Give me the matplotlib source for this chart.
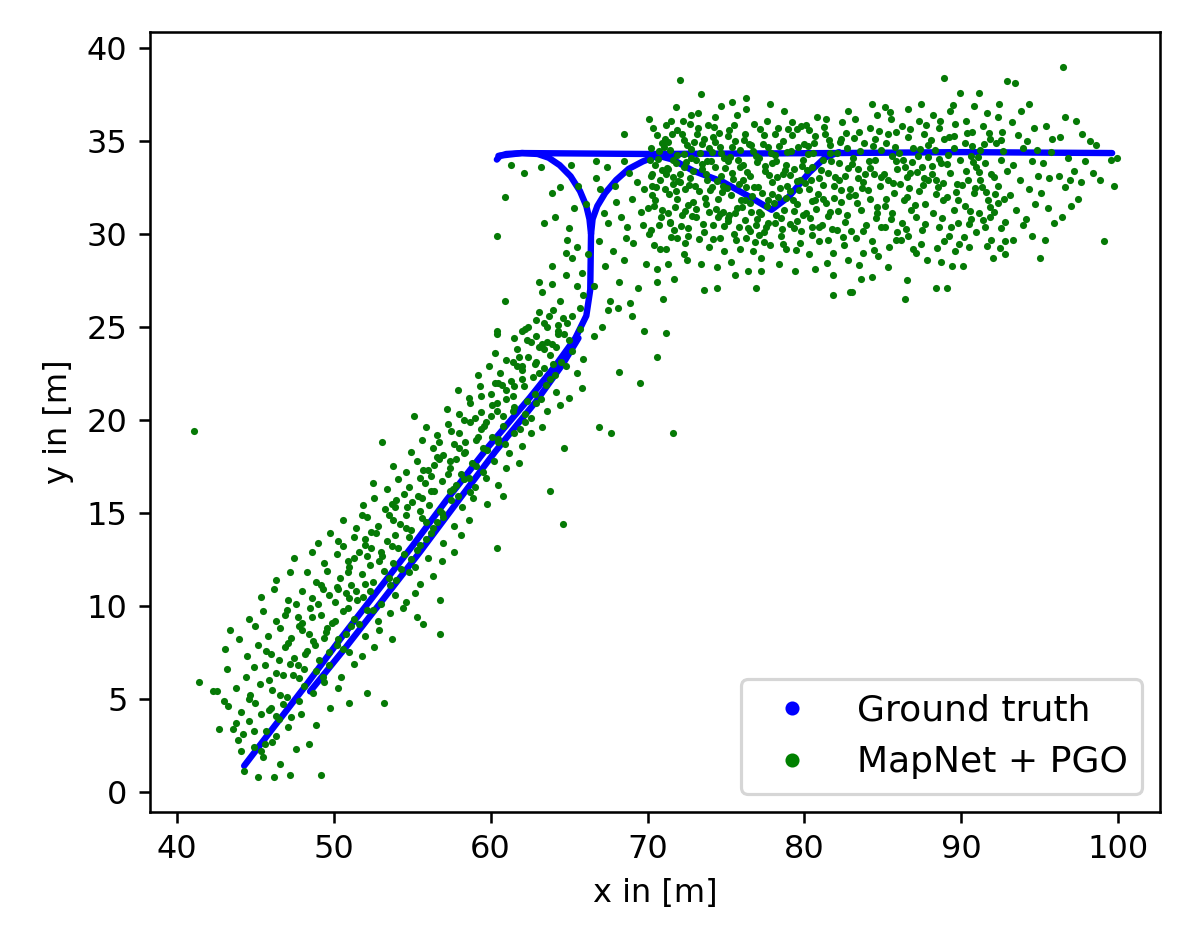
import numpy as np
import matplotlib
matplotlib.use("Agg")
from matplotlib import pyplot as plt
from matplotlib.lines import Line2D

# ground truth track
gt_diag_a = [(44.3, 1.4), (46.2, 3.5), (48.3, 5.8), (50.5, 8.3), (52.7, 10.7), (55.0, 13.2),
             (57.2, 15.7), (59.8, 18.5), (62.5, 21.2), (64.2, 23.0), (65.4, 24.4), (66.1, 25.6),
             (66.35, 27.0), (66.4, 30.0), (66.3, 30.8), (66.1, 31.5), (65.7, 32.3), (65.1, 33.1),
             (64.4, 33.7), (63.7, 34.1), (63.0, 34.3), (62.0, 34.35), (61.0, 34.3), (60.6, 34.2),
             (60.4, 34.0)]
gt_diag_b = [(48.5, 5.4), (50.8, 7.8), (53.2, 10.4), (55.5, 12.9), (57.8, 15.5), (60.3, 18.3),
             (62.9, 21.0), (64.6, 23.0), (65.6, 24.4)]
gt_branch = [(66.4, 30.0), (66.5, 30.8), (66.8, 31.5), (67.3, 32.2), (68.0, 32.9), (68.8, 33.5),
             (69.7, 33.9), (70.6, 34.2), (71.5, 34.3)]
gt_vee = [(70.5, 34.25), (71.6, 34.0), (72.9, 33.4), (74.8, 32.8), (76.5, 32.0), (77.9, 31.3),
          (79.0, 32.0), (80.3, 33.3), (81.3, 34.1), (82.2, 34.4)]
gt_top = [(60.5, 34.2), (62.0, 34.35), (70.0, 34.3), (82.0, 34.35), (90.0, 34.4), (99.6, 34.35)]

# MapNet + PGO estimates, hand-read by region
pred_diag_low = [
    (44.3, 1.1), (45.2, 0.8), (46.2, 0.8), (47.2, 0.9), (49.2, 0.9), (45.5, 1.9), (46.6, 1.5),
    (44.9, 2.4), (46.1, 2.7), (47.6, 2.3), (43.9, 2.8), (45.4, 2.2), (48.4, 2.6),
    (42.7, 3.4), (43.6, 3.4), (44.6, 3.8), (45.7, 3.3), (46.5, 3.9), (47.1, 3.5), (48.9, 3.6), (44.2, 3.1),
    (43.3, 4.6), (44.1, 4.3), (45.0, 4.8), (45.9, 4.4), (46.8, 4.7), (47.9, 4.2), (49.8, 4.5), (43.0, 4.9), (46.3, 4.1),
    (41.4, 5.9), (42.3, 5.4), (42.6, 5.4), (43.8, 5.6), (44.7, 5.2), (45.3, 5.8), (46.1, 5.5), (47.0, 5.1),
    (48.1, 5.7), (48.7, 5.3), (49.4, 5.9), (51.0, 4.8), (52.1, 5.3), (50.3, 5.6), (53.2, 4.8),
    (43.2, 6.6), (44.4, 6.2), (45.6, 6.8), (46.3, 6.4), (47.2, 6.9), (47.8, 6.1), (48.9, 6.5), (49.7, 6.8),
    (50.5, 6.2), (51.3, 6.9), (44.9, 6.7), (46.8, 6.3),
    (43.1, 7.7), (44.5, 7.3), (45.2, 7.9), (46.0, 7.4), (46.9, 7.8), (47.5, 7.2), (48.3, 7.6), (49.1, 7.1),
    (50.2, 7.9), (51.0, 7.5), (51.8, 7.3), (52.6, 7.8), (45.7, 7.6), (48.8, 7.9),
    (43.4, 8.7), (44.0, 8.2), (45.0, 8.9), (45.8, 8.4), (46.6, 8.8), (47.3, 8.3), (48.0, 8.7), (48.7, 8.1),
    (49.5, 8.6), (50.3, 8.2), (51.1, 8.9), (52.0, 8.4), (52.9, 8.7), (53.7, 8.2), (55.7, 9.0), (56.8, 8.5),
    (47.8, 8.9), (50.8, 8.5),
    (44.6, 9.3), (45.5, 9.7), (46.3, 9.2), (47.0, 9.8), (47.7, 9.4), (48.5, 9.9), (49.2, 9.5), (49.9, 9.1),
    (50.6, 9.7), (51.3, 9.3), (52.1, 9.8), (52.8, 9.2), (53.6, 9.6), (54.4, 9.9), (55.3, 9.4), (48.0, 9.1),
    (50.9, 9.9), (46.9, 9.5),
    (45.4, 10.5), (46.2, 10.9), (47.1, 10.3), (48.0, 10.8), (48.6, 10.4), (49.3, 10.9), (50.1, 10.2),
    (50.8, 10.7), (51.5, 10.3), (52.3, 10.8), (53.0, 10.1), (53.9, 10.6), (54.6, 10.2), (55.2, 10.7),
    (56.8, 10.3), (49.7, 10.6), (51.9, 10.5), (47.6, 10.1),
    (46.3, 11.4), (47.2, 11.8), (48.3, 11.8), (48.9, 11.3), (49.6, 11.9), (50.4, 11.5), (51.1, 11.1),
    (51.8, 11.7), (52.5, 11.3), (53.2, 11.9), (54.0, 11.4), (54.8, 11.8), (55.5, 11.2), (56.3, 11.6),
    (50.9, 11.8), (53.6, 11.1), (49.2, 11.1),
]
pred_diag_mid = [
    (47.5, 12.6), (48.6, 12.9), (49.4, 12.3), (50.2, 12.8), (50.9, 12.4), (51.6, 12.9), (52.3, 12.2),
    (53.1, 12.7), (53.8, 12.3), (54.5, 12.8), (55.2, 12.1), (56.0, 12.6), (56.9, 12.4), (57.7, 12.9),
    (51.3, 12.6), (54.9, 12.5), (60.4, 13.1),
    (49.0, 13.4), (49.8, 13.9), (50.6, 13.2), (51.3, 13.7), (52.0, 13.3), (52.7, 13.9), (53.4, 13.5),
    (54.1, 13.1), (54.8, 13.7), (55.5, 13.3), (56.2, 13.9), (57.0, 13.4), (58.1, 13.8), (52.4, 13.1),
    (55.9, 13.6), (50.3, 13.5),
    (50.6, 14.6), (51.4, 14.2), (52.1, 14.8), (52.8, 14.3), (53.5, 14.9), (54.2, 14.4), (54.9, 14.1),
    (55.6, 14.7), (56.3, 14.2), (57.0, 14.8), (57.7, 14.3), (58.6, 14.6), (64.6, 14.4), (53.8, 14.6),
    (56.6, 14.5), (51.8, 14.9),
    (51.9, 15.4), (52.6, 15.8), (53.3, 15.2), (54.0, 15.7), (54.7, 15.3), (55.4, 15.9), (56.1, 15.4),
    (56.8, 15.1), (57.5, 15.7), (58.2, 15.3), (58.9, 15.8), (59.8, 15.5), (60.8, 15.9), (55.0, 15.6),
    (57.9, 15.9), (53.7, 15.5), (63.8, 16.2),
    (52.5, 16.6), (53.4, 16.3), (54.1, 16.8), (54.8, 16.4), (55.5, 16.9), (56.2, 16.2), (56.9, 16.7),
    (57.6, 16.3), (58.3, 16.8), (59.0, 16.4), (59.7, 16.9), (60.5, 16.5), (57.4, 16.2), (55.8, 16.6),
    (58.7, 16.1),
    (53.8, 17.5), (54.6, 17.2), (55.3, 17.8), (56.0, 17.3), (56.7, 17.9), (57.4, 17.4), (58.1, 17.1),
    (58.8, 17.7), (59.5, 17.2), (60.2, 17.8), (61.0, 17.4), (61.8, 17.7), (56.4, 17.6), (59.1, 17.5),
    (57.8, 17.9),
    (53.1, 18.8), (54.9, 18.3), (55.6, 18.9), (56.3, 18.5), (57.0, 18.1), (57.7, 18.7), (58.4, 18.3),
    (59.1, 18.9), (59.8, 18.4), (60.5, 18.8), (61.2, 18.2), (62.0, 18.6), (64.7, 18.5), (58.0, 18.5),
    (60.9, 18.7), (56.7, 18.8),
    (41.1, 19.4), (55.9, 19.6), (56.6, 19.2), (57.3, 19.8), (58.0, 19.3), (58.7, 19.9), (59.4, 19.5),
    (60.1, 19.1), (60.8, 19.7), (61.5, 19.3), (62.2, 19.9), (62.6, 19.3), (63.3, 19.6), (66.9, 19.6),
    (67.7, 19.3), (59.7, 19.9), (61.9, 19.5), (71.6, 19.3),
    (55.1, 20.2), (57.2, 20.6), (58.0, 20.3), (58.7, 20.9), (59.4, 20.4), (60.1, 20.8), (60.8, 20.2),
    (61.5, 20.7), (62.2, 20.3), (62.9, 20.9), (63.6, 20.5), (64.4, 20.8), (60.4, 20.5), (62.6, 20.1),
    (59.0, 20.1),
    (57.9, 21.6), (58.6, 21.2), (59.3, 21.8), (60.0, 21.4), (60.7, 21.9), (61.4, 21.3), (62.1, 21.8),
    (62.8, 21.4), (63.5, 21.9), (64.2, 21.5), (65.0, 21.2), (65.8, 21.7), (69.5, 22.0), (61.0, 21.6),
    (63.2, 21.1),
    (59.2, 22.4), (59.9, 22.9), (60.6, 22.5), (61.3, 22.1), (62.0, 22.7), (62.7, 22.3), (63.4, 22.8),
    (64.1, 22.4), (64.8, 22.9), (65.5, 22.5), (68.2, 22.6), (61.7, 22.9), (63.8, 22.2), (60.3, 22.0),
    (60.3, 23.6), (61.0, 23.2), (61.7, 23.8), (62.4, 23.4), (63.1, 23.9), (63.8, 23.5), (64.5, 23.1),
    (65.2, 23.7), (65.9, 23.3), (70.6, 23.4), (62.8, 23.0), (64.2, 23.9), (61.4, 23.1),
    (61.5, 24.4), (62.2, 24.9), (62.9, 24.5), (63.6, 24.2), (64.3, 24.8), (65.0, 24.3), (65.7, 24.9),
    (66.6, 24.5), (69.8, 24.8), (71.2, 24.7), (63.3, 24.1), (64.7, 24.6), (62.6, 24.2),
]
pred_diag_near = [
    (44.1, 2.2), (45.6, 2.6), (44.9, 3.3), (46.3, 3.0), (43.8, 3.7), (45.4, 4.2), (47.3, 4.0), (46.0, 4.5),
    (46.6, 5.2), (44.6, 5.0), (47.8, 4.9), (47.4, 6.3), (45.9, 6.0), (48.1, 6.6), (49.3, 6.2),
    (48.2, 7.4), (46.5, 7.1), (49.7, 7.5), (47.7, 6.8), (49.4, 8.3), (47.1, 8.0), (50.6, 7.7), (48.4, 8.5),
    (50.1, 9.2), (48.6, 9.4), (51.6, 9.0), (49.6, 8.8), (51.0, 10.4), (49.0, 10.1), (52.5, 9.8), (50.3, 10.9),
    (52.0, 11.2), (50.2, 11.0), (53.5, 11.5), (51.4, 10.8), (52.9, 12.4), (51.0, 12.1), (54.3, 12.0),
    (52.1, 12.7), (53.7, 13.2), (52.0, 13.6), (55.3, 13.0), (53.0, 12.9), (54.6, 14.2), (52.4, 14.0),
    (55.9, 14.5), (53.9, 13.8), (55.5, 15.1), (53.9, 15.3), (56.9, 15.0), (54.6, 14.9), (56.4, 16.2),
    (54.5, 16.0), (57.8, 16.5), (55.6, 15.8), (57.3, 17.1), (55.7, 17.3), (58.6, 16.9), (56.2, 17.0),
    (58.3, 18.2), (56.6, 18.0), (59.5, 18.5), (57.4, 17.8), (59.2, 19.1), (57.5, 19.4), (60.5, 19.0),
    (58.4, 18.8), (60.0, 20.2), (58.3, 20.0), (61.4, 20.5), (59.6, 19.7), (61.0, 21.1), (59.4, 21.3),
    (62.3, 21.0), (60.4, 20.9), (62.0, 22.2), (60.5, 22.0), (63.1, 22.5), (61.5, 21.8), (62.9, 23.1),
    (61.8, 23.4), (64.0, 23.0), (62.0, 22.9), (63.9, 24.1), (62.3, 24.3), (64.3, 24.6), (63.4, 23.8),
    (64.9, 25.2), (63.6, 25.0), (65.2, 25.6),
]
pred_turn = [
    (60.4, 29.9), (60.9, 26.4), (60.4, 24.8), (60.4, 24.6), (62.0, 24.8), (62.4, 25.0), (62.9, 25.4),
    (63.4, 25.2), (63.1, 25.8), (63.7, 25.6), (64.3, 25.1), (64.0, 25.9), (64.6, 25.5), (63.1, 27.4),
    (63.3, 26.9), (63.9, 27.3), (63.9, 28.3), (64.4, 26.4), (64.8, 27.8), (63.4, 30.6), (64.1, 30.9),
    (63.9, 32.2), (64.8, 29.0), (64.9, 29.7), (65.0, 30.3), (65.5, 29.3), (65.2, 28.7), (65.8, 27.9),
    (65.5, 27.2), (65.9, 26.7), (65.7, 26.0), (65.3, 31.4), (65.6, 32.6), (65.1, 33.7), (64.4, 32.5),
    (63.2, 33.6), (62.1, 33.3), (61.3, 33.7), (60.9, 32.0), (66.2, 28.9), (66.6, 27.2), (66.1, 31.6),
    (66.9, 29.6), (67.1, 25.0), (67.6, 26.4), (68.2, 27.4), (67.3, 28.3), (67.8, 29.1), (68.5, 28.6),
    (69.1, 29.5), (70.1, 30.0), (69.4, 27.1), (71.0, 26.5), (67.5, 30.6), (68.0, 31.7), (68.7, 30.4),
    (69.6, 31.2), (70.4, 31.5), (69.9, 28.4), (70.8, 29.2), (71.4, 30.6), (71.9, 29.8), (67.0, 32.4),
    (66.7, 33.0), (66.7, 33.9), (67.4, 33.6), (68.5, 33.9), (68.5, 35.4), (69.3, 32.8), (70.2, 33.1),
    (71.1, 32.4), (70.6, 28.1), (71.7, 27.6), (72.3, 28.9), (68.1, 26.0), (69.0, 25.6), (67.5, 25.9),
    (68.9, 26.3), (67.9, 32.6), (68.3, 30.9), (69.0, 31.9), (69.7, 30.5), (68.6, 29.8), (69.8, 32.4),
    (67.2, 31.1), (70.3, 32.6), (68.8, 33.3), (71.3, 33.5),
]
pred_top_left = [
    (70.2, 34.6), (70.5, 33.7), (70.8, 32.9), (70.3, 32.1), (70.9, 31.3), (70.6, 35.3), (70.1, 36.2),
    (70.7, 30.5), (70.4, 29.4), (70.9, 34.9), (70.3, 33.2), (70.6, 27.4),
    (71.1, 35.1), (71.4, 34.5), (71.8, 33.8), (71.2, 33.2), (71.6, 32.7), (71.9, 31.9), (71.3, 31.1),
    (71.7, 30.2), (71.5, 36.1), (71.8, 36.8), (71.2, 29.2), (71.6, 34.0), (71.9, 35.6), (71.3, 28.4),
    (71.8, 32.3),
    (72.1, 38.3), (72.2, 35.4), (72.5, 34.8), (72.8, 34.1), (72.3, 33.6), (72.7, 33.0), (72.4, 32.4),
    (72.9, 31.7), (72.2, 31.0), (72.6, 30.3), (72.4, 29.5), (72.8, 36.4), (72.1, 32.8), (72.7, 35.9),
    (72.5, 28.6), (72.9, 33.4), (72.3, 34.3),
    (73.4, 37.5), (73.2, 35.7), (73.6, 35.1), (73.9, 34.6), (73.1, 34.0), (73.5, 33.5), (73.8, 32.9),
    (73.3, 32.3), (73.7, 31.6), (73.1, 30.9), (73.6, 30.1), (73.9, 29.3), (73.6, 27.0), (73.2, 36.5),
    (73.8, 33.9), (73.4, 28.4), (73.9, 31.2),
    (74.4, 27.1), (74.2, 35.2), (74.6, 34.7), (74.9, 34.1), (74.3, 33.6), (74.7, 33.1), (74.1, 32.5),
    (74.5, 31.9), (74.8, 31.2), (74.2, 30.5), (74.6, 29.8), (74.9, 29.1), (74.3, 36.3), (74.7, 36.9),
    (74.4, 28.2), (74.1, 34.4), (74.8, 32.6), (74.5, 30.9),
    (75.2, 35.6), (75.6, 35.0), (75.9, 34.5), (75.1, 33.9), (75.4, 33.3), (75.8, 32.7), (75.3, 32.1),
    (75.7, 31.4), (75.1, 30.7), (75.5, 30.0), (75.9, 29.2), (75.3, 28.5), (75.7, 36.4), (75.4, 37.1),
    (75.9, 33.6), (75.2, 31.0), (75.6, 27.8),
    (76.3, 37.3), (76.3, 36.7), (76.9, 27.1), (76.4, 28.0), (76.2, 35.4), (76.6, 34.8), (76.9, 34.2),
    (76.1, 33.7), (76.5, 33.1), (76.8, 32.5), (76.2, 31.8), (76.6, 31.2), (76.9, 30.5), (76.3, 29.8),
    (76.7, 29.1), (76.1, 32.9), (76.8, 35.9), (76.4, 30.3),
    (77.8, 37.0), (77.2, 28.0), (77.4, 35.3), (77.7, 34.7), (77.1, 34.1), (77.5, 33.4), (77.9, 32.8),
    (77.3, 32.2), (77.6, 31.5), (77.0, 30.8), (77.4, 30.1), (77.8, 29.4), (77.2, 28.7), (77.6, 36.1),
    (77.9, 33.8), (77.1, 31.2), (77.7, 30.6),
    (78.3, 35.7), (78.6, 35.0), (78.9, 34.4), (78.2, 33.9), (78.6, 33.2), (78.9, 32.6), (78.3, 32.0),
    (78.7, 31.3), (78.1, 30.6), (78.5, 29.9), (78.8, 29.2), (78.4, 28.4), (78.7, 36.6), (78.2, 31.0),
    (78.8, 33.7),
    (79.4, 28.0), (79.2, 35.3), (79.6, 34.7), (79.9, 34.0), (79.3, 33.5), (79.7, 32.9), (79.1, 32.3),
    (79.5, 31.6), (79.9, 31.0), (79.3, 30.3), (79.7, 29.5), (79.2, 36.0), (79.8, 35.8), (79.5, 30.7),
    (80.7, 28.1), (80.3, 35.6), (80.6, 34.9), (80.2, 34.3), (80.5, 33.6), (80.9, 33.0), (80.3, 32.4),
    (80.7, 31.8), (80.1, 31.1), (80.5, 30.4), (80.9, 29.6), (80.3, 28.9), (80.8, 36.3), (80.4, 32.9),
    (81.8, 26.7), (81.8, 27.8), (81.3, 35.4), (81.6, 34.8), (81.2, 34.0), (81.5, 33.3), (81.9, 32.6),
    (81.2, 31.9), (81.6, 31.2), (81.1, 30.5), (81.5, 29.7), (81.8, 29.0), (81.4, 36.2), (81.7, 33.9),
    (82.9, 26.9), (82.3, 35.1), (82.7, 34.6), (82.2, 33.8), (82.6, 33.1), (82.9, 32.4), (82.3, 31.7),
    (82.7, 31.0), (82.1, 30.2), (82.5, 29.4), (82.8, 28.6), (82.4, 36.0), (82.8, 36.6), (82.2, 32.9),
]
pred_top_dense = [
    (70.15, 33.95), (70.45, 31.8), (70.75, 34.45), (70.85, 30.9), (70.35, 35.7), (70.55, 32.5),
    (70.95, 33.45), (70.25, 30.2), (70.65, 34.05), (70.05, 31.4),
    (71.05, 34.7), (71.35, 32.15), (71.55, 35.35), (71.75, 31.45), (71.25, 33.55), (71.85, 34.25),
    (71.45, 30.65), (71.65, 33.05), (71.15, 35.85), (71.95, 32.85), (71.5, 29.85), (71.3, 34.95),
    (72.05, 33.25), (72.35, 35.05), (72.55, 31.55), (72.75, 34.55), (72.15, 30.45), (72.65, 32.65),
    (72.45, 33.85), (72.85, 30.95), (72.25, 36.05), (72.95, 34.95), (72.6, 29.9), (72.4, 31.25),
    (73.05, 32.6), (73.35, 34.35), (73.55, 30.55), (73.75, 33.25), (73.15, 35.35), (73.65, 31.95),
    (73.45, 33.75), (73.85, 35.85), (73.25, 29.75), (73.95, 32.35), (73.5, 34.85), (73.1, 31.35),
    (74.05, 33.9), (74.35, 31.35), (74.55, 35.45), (74.75, 32.25), (74.15, 29.75), (74.65, 34.35),
    (74.45, 32.85), (74.85, 30.45), (74.25, 35.75), (74.95, 33.55), (74.6, 31.05), (74.3, 34.95),
    (75.05, 32.45), (75.35, 34.65), (75.55, 31.15), (75.75, 33.95), (75.15, 35.25), (75.65, 29.65),
    (75.45, 32.95), (75.85, 30.35), (75.25, 34.15), (75.95, 31.85), (75.5, 35.85), (75.1, 30.85),
    (76.05, 31.45), (76.35, 33.35), (76.55, 30.15), (76.75, 34.45), (76.15, 35.05), (76.65, 32.05),
    (76.45, 34.85), (76.85, 29.55), (76.25, 32.55), (76.95, 33.85), (76.5, 31.65), (76.2, 30.75),
    (77.05, 32.55), (77.35, 34.85), (77.55, 30.35), (77.75, 33.15), (77.15, 35.65), (77.65, 31.85),
    (77.45, 29.55), (77.85, 34.35), (77.25, 31.05), (77.95, 32.15), (77.5, 33.65), (77.1, 29.95),
    (78.05, 31.65), (78.35, 34.75), (78.55, 30.25), (78.75, 33.45), (78.15, 35.35), (78.65, 29.45),
    (78.45, 32.45), (78.85, 31.95), (78.25, 33.05), (78.95, 35.65), (78.5, 30.85), (78.1, 34.25),
    (79.05, 33.15), (79.35, 31.25), (79.55, 35.65), (79.75, 30.15), (79.15, 34.45), (79.65, 32.35),
    (79.45, 29.15), (79.85, 33.65), (79.25, 31.85), (79.95, 34.85), (79.5, 32.85), (79.1, 30.55),
    (80.05, 32.75), (80.35, 30.85), (80.55, 34.35), (80.75, 31.35), (80.15, 33.45), (80.65, 35.25),
    (80.45, 29.95), (80.85, 32.15), (80.25, 34.75), (80.95, 30.35), (80.5, 31.75), (80.1, 35.85),
    (81.05, 33.45), (81.35, 31.65), (81.55, 35.05), (81.75, 30.25), (81.15, 32.65), (81.65, 34.35),
    (81.45, 28.45), (81.85, 31.95), (81.25, 35.75), (81.95, 33.05), (81.5, 30.95),
    (82.05, 34.35), (82.35, 32.35), (82.55, 30.65), (82.75, 33.55), (82.15, 31.25), (82.65, 35.45),
    (82.45, 29.85), (82.85, 32.05), (82.25, 34.95), (82.95, 30.15),
    (83.05, 33.75), (83.35, 31.65), (83.55, 34.45), (83.75, 30.15), (83.15, 35.15), (83.65, 32.45),
    (83.45, 28.35), (83.85, 33.25),
    (84.05, 32.35), (84.35, 34.75), (84.55, 30.85), (84.75, 35.55), (84.15, 33.55), (84.65, 31.45),
    (84.45, 29.15), (84.85, 33.05),
    (85.05, 33.25), (85.35, 35.35), (85.55, 31.15), (85.75, 34.65), (85.15, 30.35), (85.65, 32.75),
    (85.45, 36.55), (85.85, 29.65),
    (86.05, 34.35), (86.35, 31.85), (86.55, 33.05), (86.75, 35.65), (86.15, 29.65), (86.65, 32.45),
    (86.45, 30.25), (86.85, 33.85),
    (87.05, 31.55), (87.35, 34.55), (87.55, 32.65), (87.75, 35.85), (87.15, 33.35), (87.65, 30.55),
    (87.45, 29.45), (87.85, 34.15),
    (88.05, 35.05), (88.35, 32.15), (88.55, 34.05), (88.75, 30.85), (88.15, 33.65), (88.65, 36.05),
    (88.45, 29.25), (88.85, 32.75),
    (89.05, 33.75), (89.35, 30.35), (89.55, 35.25), (89.75, 31.85), (89.15, 34.25), (89.65, 32.25),
    (89.45, 36.95), (89.85, 29.45),
    (90.05, 32.65), (90.35, 35.45), (90.55, 31.25), (90.75, 33.85), (90.15, 29.85), (90.65, 34.75),
    (90.45, 30.55), (90.85, 32.45),
    (91.05, 34.15), (91.35, 30.75), (91.55, 32.25), (91.75, 35.45), (91.15, 33.35), (91.65, 29.35),
    (91.45, 34.85), (91.85, 31.45),
    (92.05, 33.05), (92.35, 31.65), (92.55, 35.05), (92.75, 30.65), (92.15, 32.15), (92.65, 34.45),
    (92.45, 29.25),
]
pred_top_right = [
    (83.6, 27.6), (83.0, 26.9), (83.2, 36.2), (83.5, 35.5), (83.8, 34.9), (83.1, 34.1), (83.4, 33.5),
    (83.7, 32.8), (83.2, 32.1), (83.6, 31.3), (83.9, 30.5), (83.3, 29.8), (83.7, 29.0), (83.4, 33.0),
    (84.3, 37.0), (84.3, 27.7), (84.6, 36.4), (84.2, 35.7), (84.5, 35.1), (84.9, 34.5), (84.1, 33.9),
    (84.4, 33.2), (84.8, 32.6), (84.2, 31.9), (84.6, 31.1), (84.9, 30.4), (84.3, 29.6), (84.7, 28.8),
    (84.5, 34.0),
    (85.3, 28.2), (85.1, 36.8), (85.5, 36.2), (85.8, 35.5), (85.2, 34.9), (85.6, 34.2), (85.9, 33.5),
    (85.3, 32.9), (85.7, 32.2), (85.1, 31.5), (85.5, 30.8), (85.9, 30.1), (85.4, 29.3), (85.8, 33.9),
    (85.2, 31.9),
    (86.6, 36.7), (86.4, 26.5), (86.5, 27.5), (86.2, 35.8), (86.6, 35.2), (86.9, 34.6), (86.3, 34.0),
    (86.7, 33.3), (86.1, 32.7), (86.5, 32.0), (86.8, 31.3), (86.2, 30.6), (86.6, 29.9), (86.9, 29.2),
    (86.4, 33.6),
    (87.1, 29.0), (87.3, 36.1), (87.6, 35.4), (87.9, 34.8), (87.2, 34.2), (87.5, 33.6), (87.9, 32.9),
    (87.3, 32.3), (87.7, 31.6), (87.1, 30.9), (87.5, 30.2), (87.8, 28.6), (87.4, 37.0), (87.6, 33.0),
    (88.9, 38.4), (88.7, 28.5), (88.4, 27.1), (88.2, 36.4), (88.6, 35.7), (88.9, 35.1), (88.3, 34.5),
    (88.7, 33.8), (88.1, 33.2), (88.5, 32.5), (88.8, 31.8), (88.2, 31.1), (88.6, 30.4), (88.9, 29.6),
    (88.4, 32.9),
    (89.9, 37.6), (89.1, 27.1), (89.3, 36.6), (89.6, 35.9), (89.2, 35.2), (89.5, 34.6), (89.9, 34.0),
    (89.3, 33.3), (89.7, 32.7), (89.1, 32.0), (89.5, 31.3), (89.8, 30.6), (89.2, 29.9), (89.6, 29.1),
    (89.4, 28.3),
    (90.1, 28.3), (91.1, 37.6), (90.3, 36.1), (90.7, 35.5), (90.2, 34.9), (90.6, 34.2), (90.9, 33.6),
    (90.4, 32.9), (90.8, 32.2), (90.2, 31.5), (90.6, 30.8), (90.9, 30.1), (90.5, 29.3), (90.8, 36.9),
    (90.3, 33.4),
    (91.4, 35.8), (91.8, 35.1), (91.2, 34.5), (91.5, 33.8), (91.9, 33.2), (91.3, 32.5), (91.7, 31.8),
    (91.1, 31.1), (91.5, 30.4), (91.9, 29.7), (92.0, 28.7), (91.6, 36.5), (91.2, 32.9), (91.8, 30.9),
    (92.9, 38.2), (92.8, 28.9), (92.3, 36.3), (92.6, 35.5), (92.2, 34.9), (92.5, 34.0), (92.9, 33.4),
    (92.3, 32.6), (92.7, 31.9), (92.1, 31.2), (92.5, 30.3), (92.8, 29.6), (92.4, 37.0),
    (93.4, 38.1), (93.2, 36.0), (93.6, 35.3), (93.9, 34.6), (93.3, 33.7), (93.7, 32.9), (93.1, 32.1),
    (93.5, 31.3), (93.9, 30.5), (93.3, 29.7), (93.8, 36.6),
    (94.3, 37.0), (94.6, 35.7), (94.2, 35.0), (94.5, 33.9), (94.9, 33.1), (94.3, 32.4), (94.7, 31.6),
    (94.1, 30.8), (94.5, 29.9), (94.8, 34.5),
    (95.0, 28.7), (95.3, 29.7), (95.4, 35.8), (95.8, 35.1), (95.2, 33.8), (95.6, 33.0), (95.1, 32.2),
    (95.5, 31.4), (95.9, 30.6), (95.7, 34.4),
    (96.5, 39.0), (96.6, 36.3), (96.3, 35.2), (96.8, 34.1), (96.2, 33.1), (96.6, 32.5), (97.0, 31.5),
    (96.4, 30.9), (96.9, 32.9),
    (97.3, 36.1), (97.7, 35.4), (97.2, 33.4), (97.6, 32.8), (97.9, 33.9), (97.4, 31.9),
    (98.4, 33.3), (98.8, 32.9), (99.1, 29.6), (99.7, 32.6), (98.2, 35.0), (99.5, 34.0), (99.9, 34.1),
    (98.6, 34.8),
]

fig = plt.figure(figsize=(1196 / 230, 952 / 230), dpi=230)
ax = fig.add_axes([0.1254, 0.1471, 0.8445, 0.8193])

for seg in [gt_diag_a, gt_diag_b, gt_branch, gt_vee, gt_top]:
    seg = np.array(seg)
    ax.plot(seg[:, 0], seg[:, 1], color="blue", lw=2.0, solid_capstyle="round",
            solid_joinstyle="round", zorder=2)

pred = np.array(pred_diag_low + pred_diag_mid + pred_diag_near + pred_turn
                + pred_top_left + pred_top_dense + pred_top_right)
ax.scatter(pred[:, 0], pred[:, 1], s=5, color="#067a06", linewidths=0, zorder=3)

ax.set_xlim(38.3, 102.65)
ax.set_ylim(-1.08, 40.86)
ax.set_xlabel("x in [m]")
ax.set_ylabel("y in [m]")

handles = [Line2D([], [], ls="", marker="o", ms=3.4, color="blue"),
           Line2D([], [], ls="", marker="o", ms=3.4, color="green")]
ax.legend(handles, ["Ground truth", "MapNet + PGO"], loc="lower right", fontsize=11.3)

fig.savefig("out.png", dpi=230)
